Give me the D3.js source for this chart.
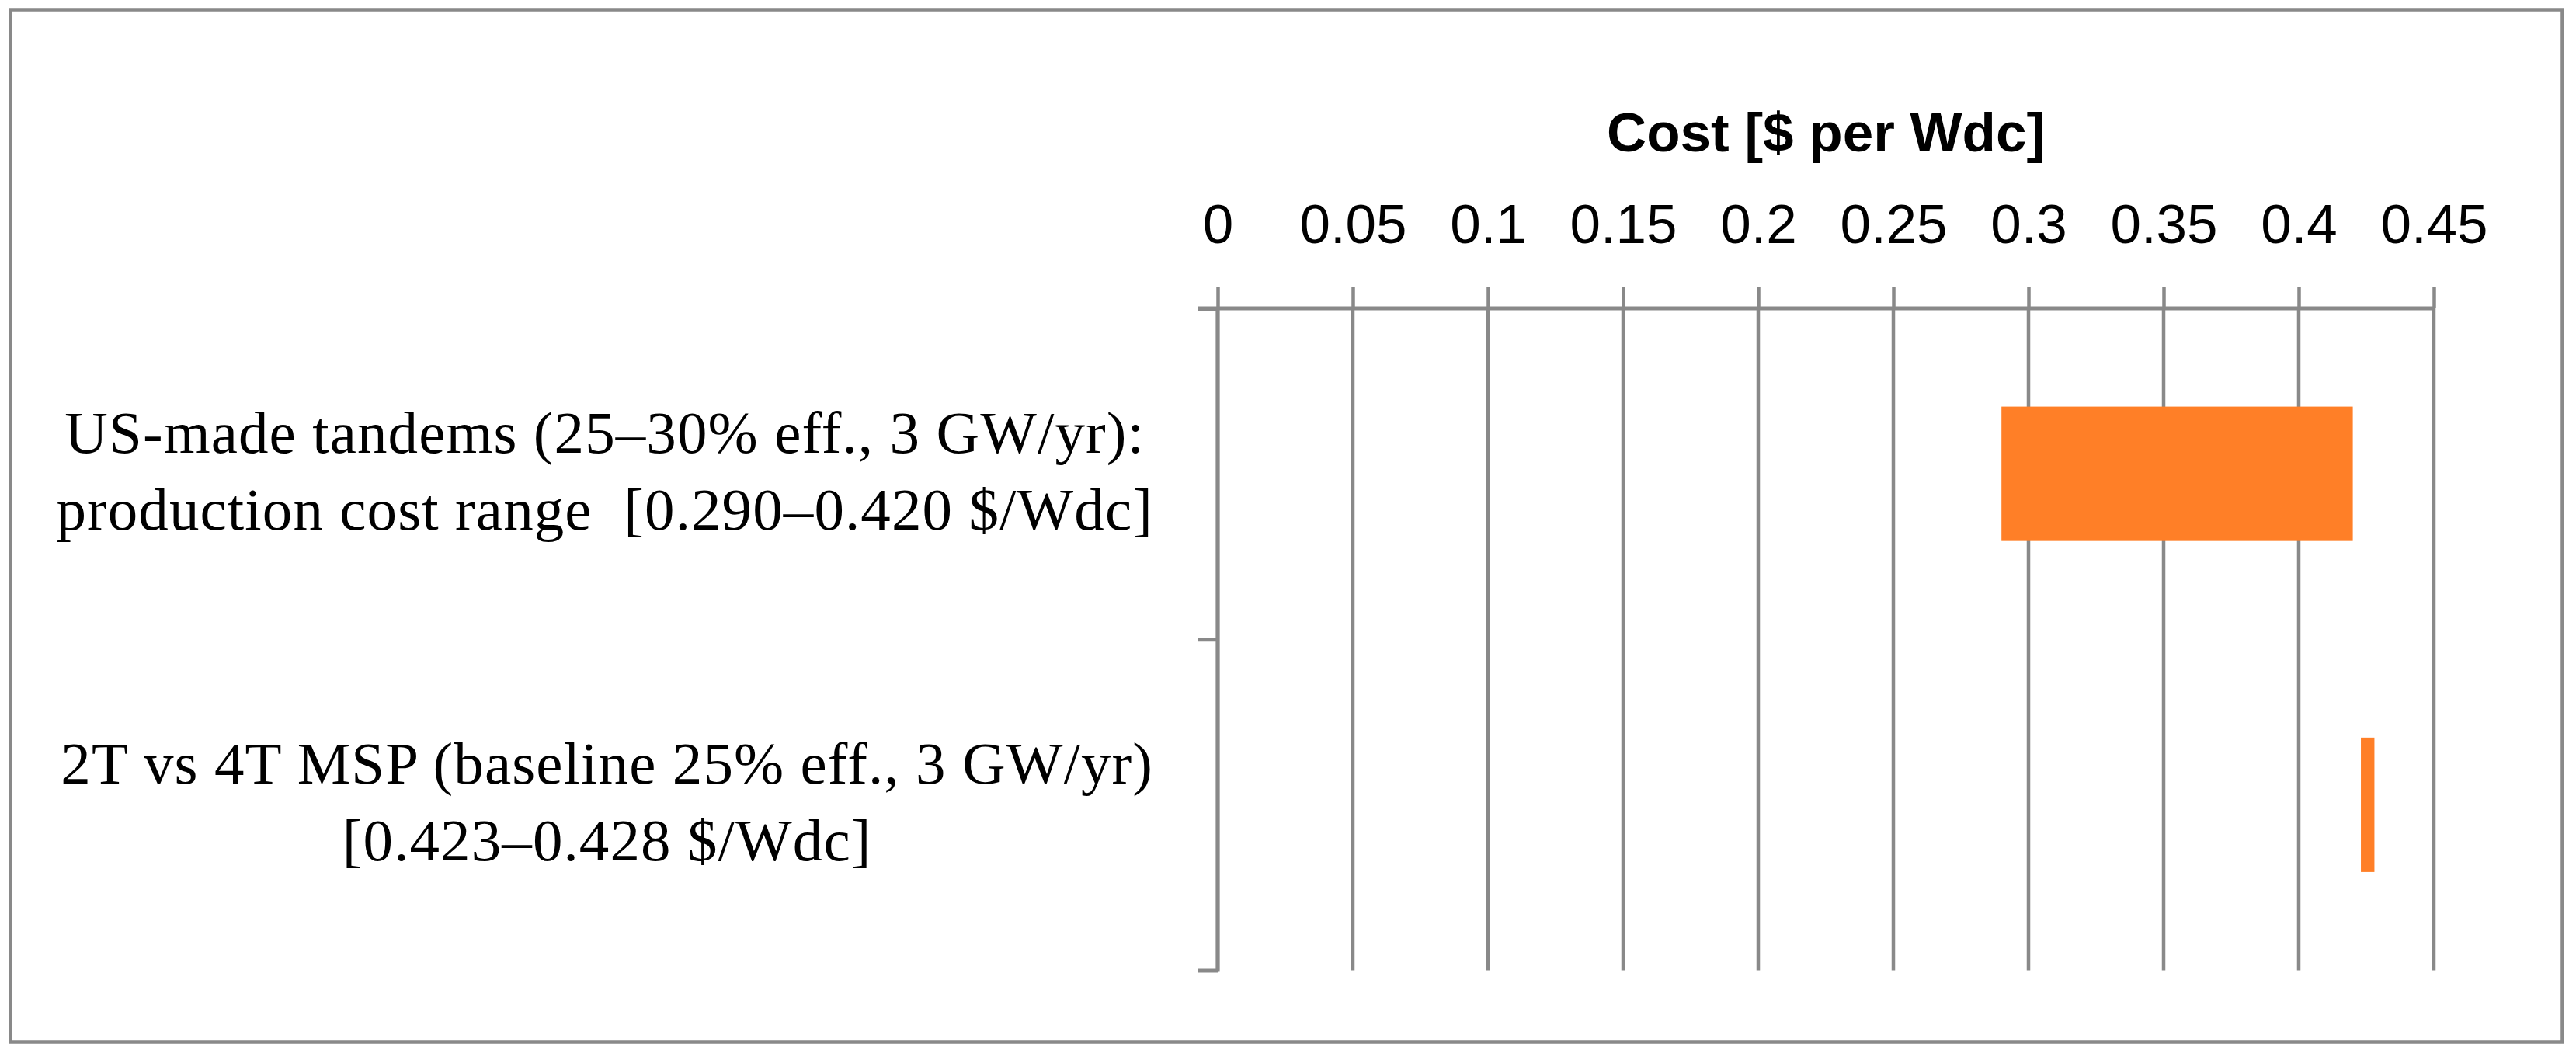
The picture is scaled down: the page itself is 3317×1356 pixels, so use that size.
<!DOCTYPE html>
<html>
<head>
<meta charset="utf-8">
<script src="https://cdn.jsdelivr.net/npm/d3@7"></script>
<style>
  html, body { margin: 0; padding: 0; background: #ffffff; }
  svg { display: block; }
  text { white-space: pre; }
</style>
</head>
<body>
<svg id="chart" width="3317" height="1356"></svg>
<script>
// ---- data ----
const categories = [
  ["US-made tandems (25\u201330% eff., 3 GW/yr):", "production cost range  [0.290\u20130.420 $/Wdc]"],
  ["2T vs 4T MSP (baseline 25% eff., 3 GW/yr)", "[0.423\u20130.428 $/Wdc]"]
];
const rangeLow  = [0.290, 0.423];
const rangeHigh = [0.420, 0.428];
const tickValues = [0, 0.05, 0.1, 0.15, 0.2, 0.25, 0.3, 0.35, 0.4, 0.45];
const tickLabels = ["0", "0.05", "0.1", "0.15", "0.2", "0.25", "0.3", "0.35", "0.4", "0.45"];
const axisTitle = "Cost [$ per Wdc]";

// ---- layout ----
const W = 3317, H = 1356;
const gray = "#898989";
const orange = "#FF7F27";
const plotLeft = 1568, plotRight = 3134, plotTop = 397, plotBottom = 1249.5;

const svg = d3.select("#chart");
svg.append("rect").attr("width", W).attr("height", H).attr("fill", "#fff");

// outer frame
svg.append("rect")
  .attr("x", 13.5).attr("y", 12.5).attr("width", 3286).attr("height", 1329)
  .attr("fill", "none").attr("stroke", gray).attr("stroke-width", 4.5);

const x = d3.scaleLinear().domain([0, 0.45]).range([plotLeft, plotRight]);
const yIdx = d3.range(categories.length);
const y = d3.scaleBand().domain(yIdx).range([plotTop, plotBottom])
  .paddingInner(0.594).paddingOuter(0.297);
const yEdge = d3.scaleLinear().domain([0, categories.length]).range([plotTop, plotBottom]);

// gridlines
svg.append("g").selectAll("line").data(tickValues).join("line")
  .attr("x1", d => x(d)).attr("x2", d => x(d))
  .attr("y1", plotTop).attr("y2", plotBottom)
  .attr("stroke", gray).attr("stroke-width", 4.5);

// bars
svg.append("g").selectAll("rect").data(yIdx).join("rect")
  .attr("x", i => x(rangeLow[i]))
  .attr("width", i => x(rangeHigh[i]) - x(rangeLow[i]))
  .attr("y", i => y(i))
  .attr("height", y.bandwidth())
  .attr("fill", orange);

// top value axis
const xAxis = svg.append("g").attr("transform", `translate(0,${plotTop})`)
  .call(d3.axisTop(x).tickValues(tickValues).tickSize(27).tickPadding(57)
    .tickFormat((d, i) => tickLabels[i]));
xAxis.select(".domain").remove();
xAxis.selectAll(".tick line").attr("stroke", gray).attr("stroke-width", 4.5);
xAxis.selectAll(".tick text")
  .attr("fill", "#000").attr("font-family", "'Liberation Sans', Arial, sans-serif")
  .attr("font-size", 71).attr("dy", 0).attr("y", -84.3);
svg.append("line")
  .attr("x1", plotLeft - 26).attr("x2", plotRight)
  .attr("y1", plotTop).attr("y2", plotTop)
  .attr("stroke", gray).attr("stroke-width", 5);

// left category axis (ticks at band boundaries)
const yAxis = svg.append("g").attr("transform", `translate(${plotLeft},0)`)
  .call(d3.axisLeft(yEdge).tickValues(d3.range(categories.length + 1)).tickSize(26).tickFormat(""));
yAxis.select(".domain").attr("stroke", gray).attr("stroke-width", 5)
  .attr("d", `M0,${plotTop}V${plotBottom + 2}`);
yAxis.selectAll(".tick line").attr("stroke", gray).attr("stroke-width", 5);

// axis title
svg.append("text")
  .attr("x", (plotLeft + plotRight) / 2).attr("y", 195)
  .attr("text-anchor", "middle")
  .attr("font-family", "'Liberation Sans', Arial, sans-serif")
  .attr("font-weight", "bold").attr("font-size", 71).attr("fill", "#000")
  .text(axisTitle);

// category labels
const labelRight = 1485;
yIdx.forEach(i => {
  const cy = y(i) + y.bandwidth() / 2;
  const g = svg.append("g");
  const texts = g.selectAll("text").data(categories[i]).join("text")
    .attr("font-family", "'Liberation Serif', 'Times New Roman', serif")
    .attr("font-size", 77).attr("letter-spacing", "1.1px").attr("fill", "#000")
    .attr("text-anchor", "middle")
    .attr("y", (d, j) => cy - 27 + j * 99)
    .text(d => d);
  let maxW = 0;
  texts.each(function () { maxW = Math.max(maxW, this.getComputedTextLength()); });
  texts.attr("x", labelRight - maxW / 2);
});
</script>
</body>
</html>
